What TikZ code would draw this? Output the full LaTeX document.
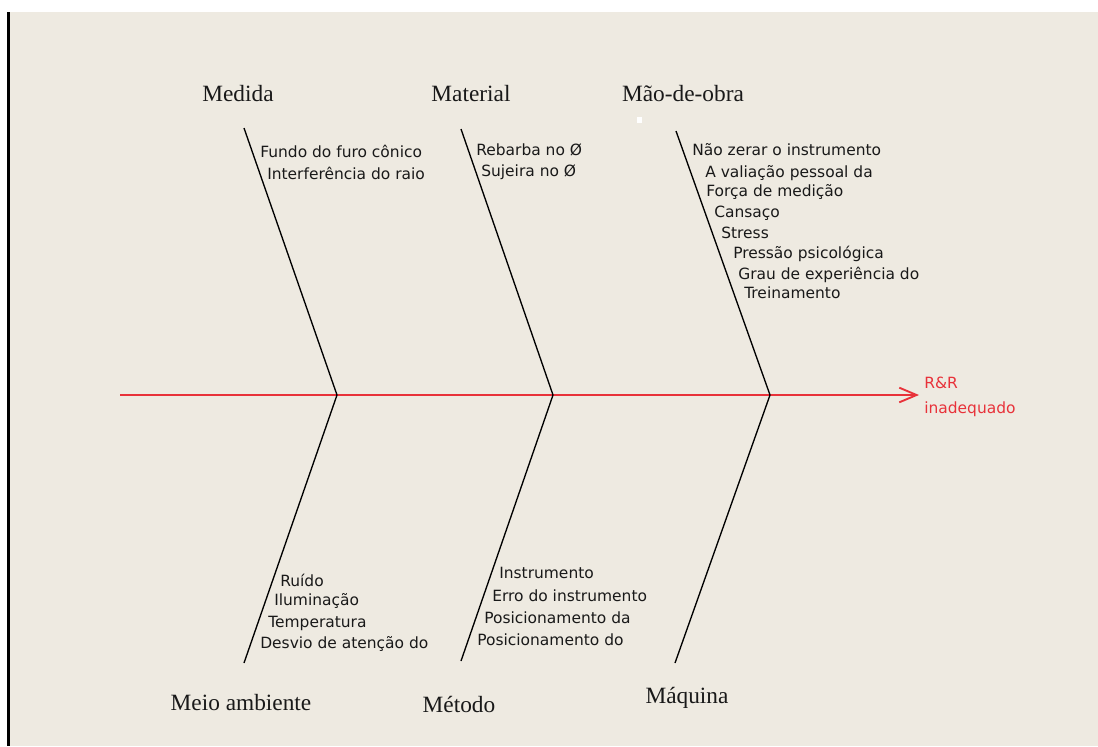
\documentclass[tikz,border=0pt]{standalone}
\usepackage{fontspec}
\setmainfont{Liberation Serif}
\newfontfamily\smallsans{DejaVu Sans}
\usetikzlibrary{arrows.meta}
\definecolor{bg}{HTML}{EEEAE1}
\definecolor{spinered}{RGB}{232,50,58}
\tikzset{
  title/.style={anchor=base,inner sep=0pt,font=\fontsize{17.5}{20}\selectfont,text=black!90},
  cause/.style={anchor=base west,inner sep=0pt,font=\smallsans\fontsize{11.6}{13}\selectfont,text=black!90},
  effect/.style={anchor=base west,inner sep=0pt,font=\smallsans\fontsize{11.6}{13}\selectfont,text=spinered},
  bone/.style={draw=black,line width=1pt},
  spine/.style={draw=spinered,line width=1.4pt,-{Straight Barb[length=13pt,width=11pt,line width=1.4pt]}}
}
\begin{document}
\begin{tikzpicture}[x=0.75pt,y=-0.75pt]
\useasboundingbox (0,0) rectangle (1098,746);
\fill[white] (0,0) rectangle (1098,746);
\fill[bg] (10,12) rectangle (1098,746);
\draw[line width=1.8pt] (8.5,12) -- (8.5,746);
\fill[white] (637,117) rectangle (642,123);
% coordinates
\coordinate (s0) at (120,395);
\coordinate (s1) at (919,395);
\coordinate (j1) at (337,395);
\coordinate (j2) at (553,395);
\coordinate (j3) at (770,395);
\coordinate (t1) at (244,128);
\coordinate (t2) at (461,129);
\coordinate (t3) at (676,131);
\coordinate (b1) at (244,663);
\coordinate (b2) at (461,661);
\coordinate (b3) at (675,663);
% spine
\draw[spine] (s0) -- (s1);
% bones
\draw[bone] (t1) -- (j1) -- (b1);
\draw[bone] (t2) -- (j2) -- (b2);
\draw[bone] (t3) -- (j3) -- (b3);
% titles
\node[title] (medida) at (238,101) {Medida};
\node[title] (material) at (471,101) {Material};
\node[title] (maodeobra) at (683,101) {Mão-de-obra};
\node[title] (meio) at (241,710) {Meio ambiente};
\node[title] (metodo) at (459,712) {Método};
\node[title] (maquina) at (687,703) {Máquina};
% effect
\node[effect] (rr1) at (924,388) {R\&R};
\node[effect] (rr2) at (924,413) {inadequado};
% Medida causes
\node[cause] (c11) at (260,157) {Fundo do furo cônico};
\node[cause] (c12) at (267,179) {Interferência do raio};
% Material causes
\node[cause] (c21) at (476,155) {Rebarba no Ø};
\node[cause] (c22) at (481,176) {Sujeira no Ø};
% Mao-de-obra causes
\node[cause] (c31) at (692,155) {Não zerar o instrumento};
\node[cause] (c32) at (705,177) {A valiação pessoal da};
\node[cause] (c33) at (706,196) {Força de medição};
\node[cause] (c34) at (714,217) {Cansaço};
\node[cause] (c35) at (721,238) {Stress};
\node[cause] (c36) at (733,258) {Pressão psicológica};
\node[cause] (c37) at (738,279) {Grau de experiência do};
\node[cause] (c38) at (744,298) {Treinamento};
% Meio ambiente causes
\node[cause] (c41) at (280,586) {Ruído};
\node[cause] (c42) at (274,605) {Iluminação};
\node[cause] (c43) at (268,627) {Temperatura};
\node[cause] (c44) at (260,648) {Desvio de atenção do};
% Metodo causes
\node[cause] (c51) at (499,578) {Instrumento};
\node[cause] (c52) at (492,601) {Erro do instrumento};
\node[cause] (c53) at (484,623) {Posicionamento da};
\node[cause] (c54) at (477,645) {Posicionamento do};
\end{tikzpicture}
\end{document}
